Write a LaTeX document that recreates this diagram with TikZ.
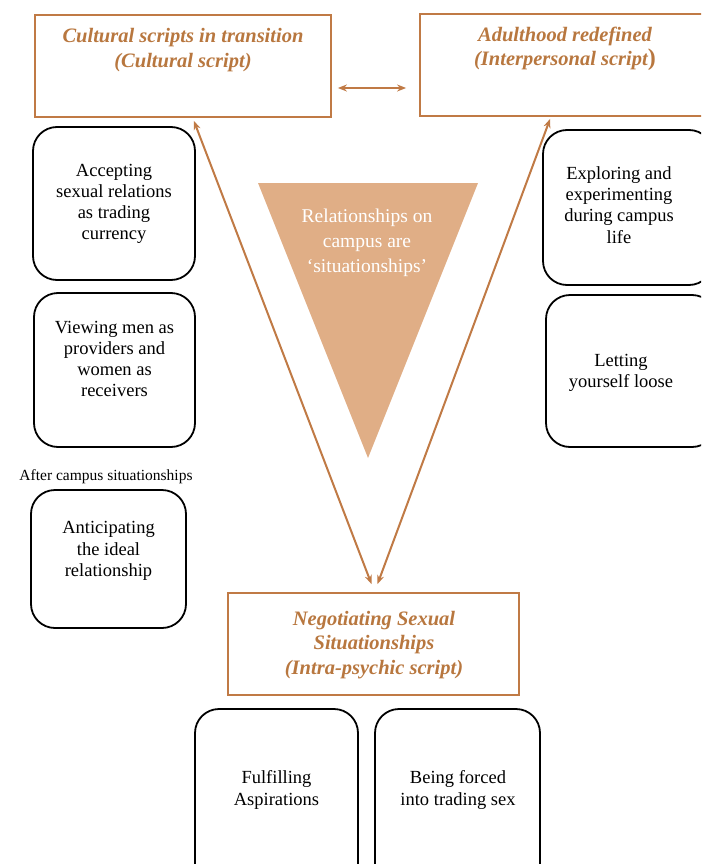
\documentclass[tikz,border=0pt]{standalone}
\usepackage{fontspec}
\setmainfont{Liberation Serif}
\usetikzlibrary{arrows.meta,calc}
\definecolor{brn}{HTML}{C07A45}
\definecolor{brntxt}{HTML}{B8773F}
\definecolor{trifill}{HTML}{E0AE86}
\begin{document}
\begin{tikzpicture}[x=1pt,y=-1pt,
  headbox/.style={draw=brn,line width=1.8pt,rectangle,inner sep=0pt},
  roundbox/.style={draw=black,line width=1.8pt,rounded corners=24pt,inner sep=0pt},
  headtxt/.style={text=brntxt,font=\fontsize{20.5}{24.5}\selectfont\bfseries\itshape,align=center,inner sep=0pt},
  bodytxt/.style={font=\fontsize{18.5}{21.2}\selectfont,align=center,inner sep=0pt},
  conn/.style={draw=brn,line width=2pt,{Stealth[length=9pt,width=7pt]}-{Stealth[length=9pt,width=7pt]}}
]
\useasboundingbox (0,0) rectangle (701,864);
\begin{scope}
\clip (0,0) rectangle (701,864);
% header boxes
\node[headbox,minimum width=296pt,minimum height=102pt] (cult) at (183,66) {};
\node[headbox,minimum width=296pt,minimum height=102pt] (adult) at (568,65) {};
\node[headbox,minimum width=291pt,minimum height=102pt] (nego) at (373.5,644) {};
\node[headtxt] (cultt) at (183,50) {Cultural scripts in transition\\(Cultural script)};
\node[headtxt] (adultt) at (565,49) {Adulthood redefined\\(Interpersonal script{\upshape\fontsize{24}{24}\selectfont)}};
\node[headtxt] (negot) at (374,645) {Negotiating Sexual\\Situationships\\(Intra-psychic script)};
% triangle
\fill[trifill] (258,183) -- (478,183) -- (368,458) -- cycle;
\node[bodytxt,font=\fontsize{19.5}{25}\selectfont,text=white] (tri) at (367,243) {Relationships on\\campus are\\‘situationships’};
% left boxes
\node[roundbox,minimum width=162pt,minimum height=153pt] (b1) at (114,203.5) {};
\node[bodytxt] (b1t) at (114,204) {Accepting\\sexual relations\\as trading\\currency};
\node[roundbox,minimum width=161pt,minimum height=154pt] (b2) at (114.5,370) {};
\node[bodytxt] (b2t) at (114.5,359) {Viewing men as\\providers and\\women as\\receivers};
\node[font=\fontsize{15.5}{17}\selectfont,inner sep=0pt] (after) at (106,477) {After campus situationships};
\node[roundbox,minimum width=155pt,minimum height=138pt] (b3) at (108.5,559) {};
\node[bodytxt] (b3t) at (108.5,551) {Anticipating\\the ideal\\relationship};
% right boxes
\node[roundbox,minimum width=170pt,minimum height=155pt] (b4) at (628,207.5) {};
\node[bodytxt] (b4t) at (619,205) {Exploring and\\experimenting\\during campus\\life};
\node[roundbox,minimum width=170pt,minimum height=152pt] (b5) at (631,371) {};
\node[bodytxt] (b5t) at (621,373) {Letting\\yourself loose};
% bottom boxes
\node[roundbox,minimum width=163pt,minimum height=180pt] (b6) at (276.5,799) {};
\node[bodytxt] (b6t) at (276.5,790) {Fulfilling\\Aspirations};
\node[roundbox,minimum width=165pt,minimum height=180pt] (b7) at (457.5,799) {};
\node[bodytxt] (b7t) at (458,790) {Being forced\\into trading sex};
\end{scope}
% connectors
\coordinate (h1) at ($(cult.east)+(6,22)$);
\coordinate (h2) at ($(adult.west)+(-13,23)$);
\draw[conn] (h1) -- (h2);
\coordinate (v1) at ($(cult.south east)+(-138,3)$);
\coordinate (v2) at ($(nego.north)+(-2,-8)$);
\coordinate (v3) at ($(nego.north)+(4,-8)$);
\coordinate (v4) at ($(adult.south west)+(131,2)$);
\draw[conn] (v1) -- (v2);
\draw[conn] (v3) -- (v4);
\end{tikzpicture}
\end{document}
